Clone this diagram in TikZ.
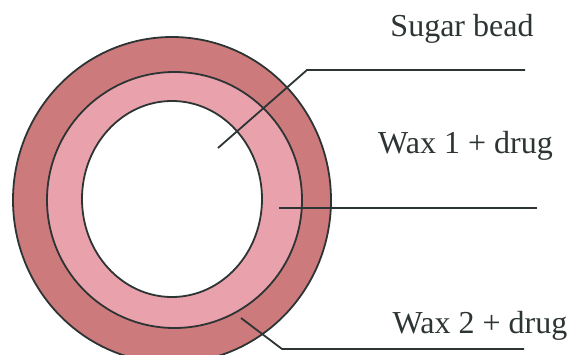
\documentclass[tikz,border=0pt]{standalone}
\usepackage{fontspec}
\setmainfont{Liberation Serif}
\usepackage{tikz}
\usetikzlibrary{positioning}
\definecolor{waxtwo}{RGB}{204,122,124}
\definecolor{waxone}{RGB}{233,162,172}
\definecolor{inkline}{RGB}{45,52,52}

\begin{document}
\begin{tikzpicture}[x=1pt, y=-1pt,
		ring/.style={draw=inkline, line width=1.8pt},
		lead/.style={inkline, line width=1.8pt},
		lbl/.style={anchor=base, inner sep=0pt, text=inkline, font=\fontsize{32}{38}\selectfont}]
		
		\useasboundingbox (0,0) rectangle (571,355);
		\clip (0,0) rectangle (571,355);
		
		% bead and coatings
		\draw[ring, fill=waxtwo] (172,200) ellipse [x radius=159pt, y radius=163pt];
		\draw[ring, fill=waxone] (174.5,200) ellipse [x radius=127.5pt, y radius=128pt];
		\draw[ring, fill=white] (172,199) ellipse [x radius=90pt, y radius=98pt];
		
		\node[lbl] (sugar) at (462,37) {Sugar bead};
		\node[lbl] (waxone) at (465.5,154) {Wax 1 + drug};
		\node[lbl] (waxtwo) at (480,334) {Wax 2 + drug};
		
		\coordinate (sugarin) at (218,148);
		\coordinate (sugarkink) at (307,70);
		\coordinate (sugarend) at (525,70);
		\draw[lead] (sugarin) -- (sugarkink) -- (sugarend);
		
		\coordinate (waxonein) at (279,208);
		\coordinate (waxoneend) at (537,208);
		\draw[lead] (waxonein) -- (waxoneend);
		
		\coordinate (waxtwoin) at (241,318);
		\coordinate (waxtwokink) at (282,349);
		\coordinate (waxtwoend) at (524,349);
		\draw[lead] (waxtwoin) -- (waxtwokink) -- (waxtwoend);
		
	\end{tikzpicture}
\end{document}
